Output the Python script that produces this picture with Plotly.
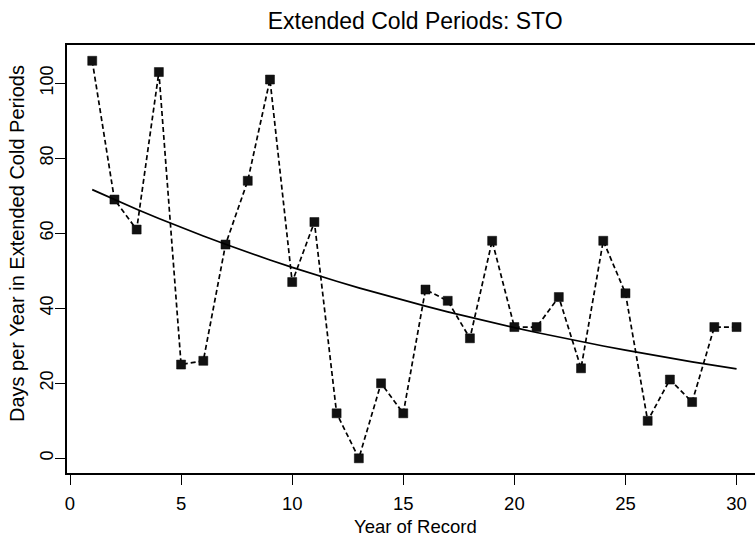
import numpy as np
import plotly.graph_objects as go

years = list(range(1, 31))
days = [106, 69, 61, 103, 25, 26, 57, 74, 101, 47,
        63, 12, 0, 20, 12, 45, 42, 32, 58, 35,
        35, 43, 24, 58, 44, 10, 21, 15, 35, 35]
x_ticks = [0, 5, 10, 15, 20, 25, 30]
y_ticks = [0, 20, 40, 60, 80, 100]

# Poisson log-linear trend fitted to the data (IRLS)
X = np.column_stack([np.ones(len(years)), np.array(years, float)])
yv = np.array(days, float)
beta = np.array([np.log(yv.mean()), 0.0])
for _ in range(50):
    mu = np.exp(X @ beta)
    z = X @ beta + (yv - mu) / mu
    W = mu
    beta = np.linalg.solve(X.T @ (W[:, None] * X), X.T @ (W * z))
trend = np.exp(X @ beta)

font = "Liberation Sans, Arial, Helvetica, sans-serif"

fig = go.Figure()
fig.add_trace(go.Scatter(
    x=years, y=days, mode="lines+markers",
    line=dict(color="black", width=1.7, dash="5px,3px"),
    marker=dict(symbol="square", size=9, color="#111111",
                line=dict(color="black", width=0.5)),
    showlegend=False))
fig.add_trace(go.Scatter(
    x=years, y=trend, mode="lines",
    line=dict(color="black", width=1.7), showlegend=False))

fig.update_layout(
    width=755, height=536,
    margin=dict(l=67, r=0, t=45, b=63),
    paper_bgcolor="white", plot_bgcolor="white",
    font=dict(family=font, size=18, color="black"),
    title=dict(text="Extended Cold Periods: STO", x=0.506, xref="paper",
               y=1 - 20.5 / 536, yref="container", xanchor="center",
               yanchor="middle", font=dict(size=23, family=font, color="black")),
    xaxis=dict(range=[-0.135, 30.83], tickvals=x_ticks, ticks="outside",
               ticklen=10, tickwidth=1.2, tickcolor="black",
               showline=True, linecolor="black", linewidth=1.5, mirror=True,
               showgrid=False, zeroline=False, automargin=False,
               ticklabelstandoff=3,
               tickfont=dict(size=18.5)),
    yaxis=dict(range=[-3.92, 110.21], tickvals=y_ticks, ticks="outside",
               ticklen=10, tickwidth=1.2, tickcolor="black", tickangle=-90,
               showline=True, linecolor="black", linewidth=1.5, mirror=False,
               showgrid=False, zeroline=False, automargin=False,
               ticklabelstandoff=-5,
               tickfont=dict(size=18)),
    annotations=[
        dict(text="Year of Record", xref="paper", yref="paper",
             x=(415 - 67) / 688, y=-(526 - 473) / 428, xanchor="center",
             yanchor="middle", showarrow=False, font=dict(size=18.5)),
        dict(text="Days per Year in Extended Cold Periods", xref="paper",
             yref="paper", x=-(67 - 17) / 688, y=(473 - 244) / 428,
             xanchor="center", yanchor="middle", textangle=-90,
             showarrow=False, font=dict(size=20)),
    ],
)

fig.write_html("out.html", config={"displayModeBar": False},
               post_script="document.body.style.margin='0px';")
